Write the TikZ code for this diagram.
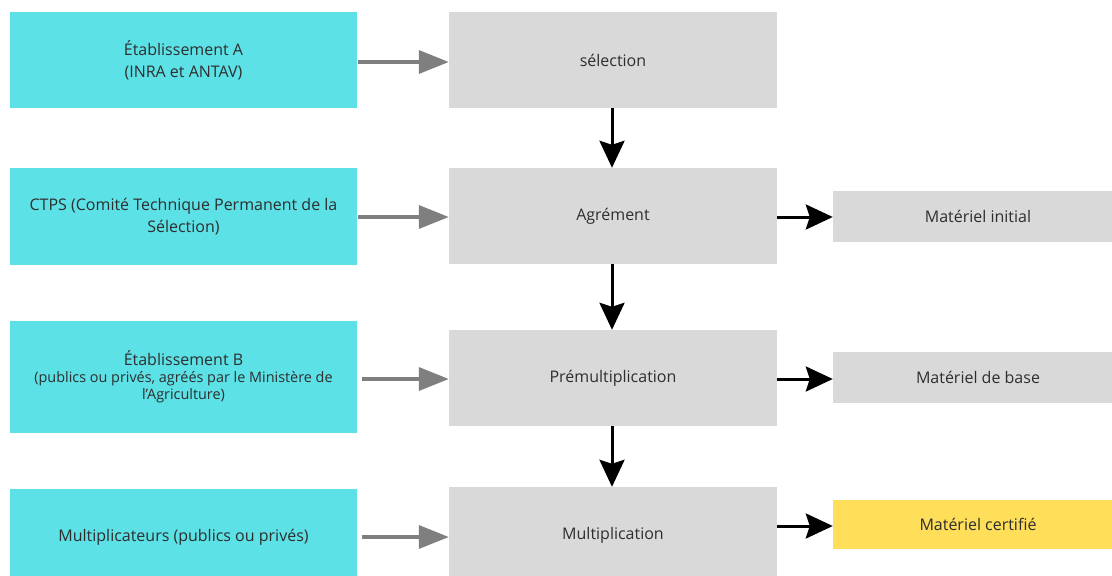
\documentclass[tikz,border=0pt]{standalone}
\usepackage{fontspec}
\setmainfont{Open Sans}
\usetikzlibrary{arrows.meta}
\definecolor{cyanbox}{HTML}{5CE1E6}
\definecolor{graybox}{HTML}{D9D9D9}
\definecolor{yellowbox}{HTML}{FFDE59}
\definecolor{txt}{HTML}{2E2E2E}
\definecolor{grayarrow}{HTML}{7F7F7F}
\begin{document}
\begin{tikzpicture}[x=1pt,y=-1pt,
  box/.style={rectangle, inner sep=0pt, align=center, text=txt, font=\fontsize{16}{22}\selectfont},
  leftbox/.style={box, fill=cyanbox, minimum width=347pt},
  midbox/.style={box, fill=graybox, minimum width=328pt, minimum height=96pt},
  rightbox/.style={box, fill=graybox, minimum width=290pt, minimum height=51pt},
  grayarr/.style={draw=grayarrow, line width=3.5pt, -{Triangle[length=30pt,width=23pt]}},
  blackarr/.style={draw=black, line width=3pt, -{Stealth[length=27pt,width=25pt,inset=4pt]}}
]
\useasboundingbox (0,0) rectangle (1112,576);
\clip (0,0) rectangle (1112,576);
\fill[white] (0,0) rectangle (1112,576);
% left boxes
\node[leftbox, minimum height=96pt] (A) at (183.5,60) {Établissement A\\(INRA et ANTAV)};
\node[leftbox, minimum height=97pt] (C) at (183.5,216.5) {CTPS (Comité Technique Permanent de la\\Sélection)};
\node[leftbox, minimum height=112pt, font=\fontsize{16}{17}\selectfont] (B) at (183.5,377) {Établissement B\\{\fontsize{14.4}{17}\selectfont (publics ou privés, agréés par le Ministère de}\\{\fontsize{14.4}{17}\selectfont l’Agriculture)}};
\node[leftbox, minimum height=96pt] (M) at (183.5,537) {Multiplicateurs (publics ou privés)};
% middle boxes
\node[midbox] (sel) at (613,60) {sélection};
\node[midbox] (agr) at (613,216) {Agrément};
\node[midbox] (pre) at (613,378) {Prémultiplication};
\node[midbox] (mul) at (613,535) {Multiplication};
% right boxes
\node[rightbox] (ini) at (978,216.5) {Matériel initial};
\node[rightbox] (bas) at (978,377.5) {Matériel de base};
\node[rightbox, fill=yellowbox, minimum height=49pt] (cer) at (978,524.5) {Matériel certifié};
% gray arrows
\draw[grayarr] (A.east |- 0,62) ++(1,0) -- (sel.west |- 0,62);
\draw[grayarr] (C.east |- 0,217) ++(1,0) -- (agr.west |- 0,217);
\draw[grayarr] (B.east |- 0,379) ++(5,0) -- (pre.west |- 0,379);
\draw[grayarr] (M.east |- 0,537) ++(5,0) -- (mul.west |- 0,537);
% black down arrows
\draw[blackarr] (sel.south -| 612,0) -- (agr.north -| 612,0);
\draw[blackarr] (agr.south -| 612,0) -- (pre.north -| 612,0);
\draw[blackarr] (pre.south -| 612,0) -- (mul.north -| 612,0);
% black right arrows
\draw[blackarr] (agr.east |- 0,217) -- (ini.west |- 0,217);
\draw[blackarr] (pre.east |- 0,379) -- (bas.west |- 0,379);
\draw[blackarr] (mul.east |- 0,526) -- (cer.west |- 0,526);
\end{tikzpicture}
\end{document}
